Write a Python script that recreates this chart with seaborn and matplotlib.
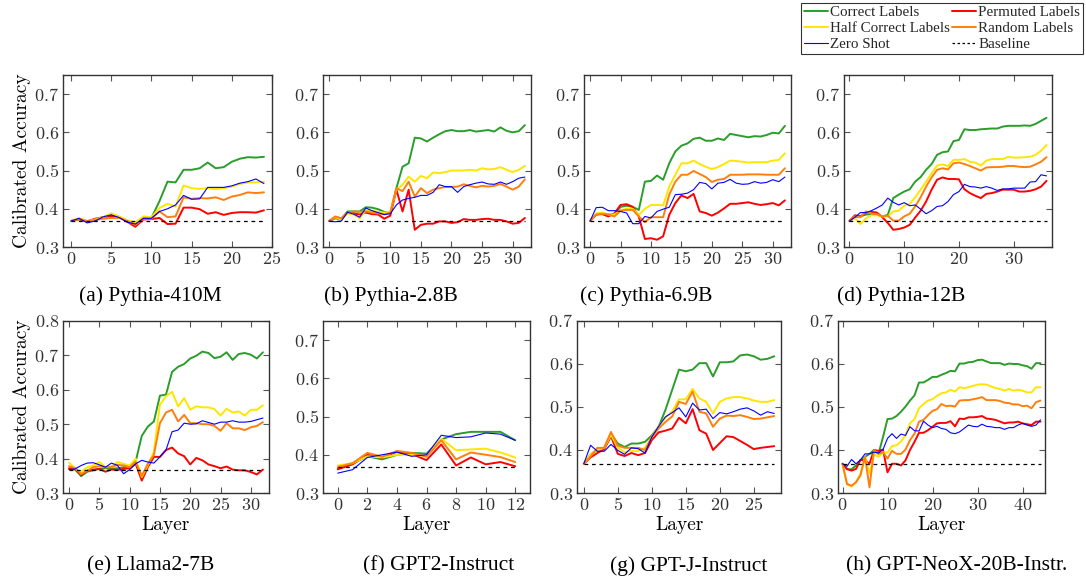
import matplotlib
matplotlib.use("Agg")
import matplotlib.pyplot as plt
from matplotlib.lines import Line2D
from matplotlib.ticker import FuncFormatter, MultipleLocator
import seaborn as sns

# ---------------------------------------------------------------- data
BASELINE = 0.368

# (a) Pythia-410M
a_correct = [0.368, 0.372, 0.367, 0.370, 0.378, 0.386, 0.378, 0.367, 0.362, 0.377, 0.376, 0.420, 0.471, 0.469, 0.502, 0.502, 0.506, 0.521, 0.506, 0.509, 0.523, 0.531, 0.535, 0.534, 0.536]
a_half = [0.368, 0.376, 0.368, 0.372, 0.378, 0.388, 0.380, 0.370, 0.364, 0.380, 0.378, 0.402, 0.413, 0.406, 0.461, 0.454, 0.452, 0.454, 0.451, 0.454, 0.458, 0.465, 0.469, 0.469, 0.471]
a_zero = [0.368, 0.375, 0.363, 0.368, 0.379, 0.384, 0.377, 0.365, 0.360, 0.375, 0.375, 0.393, 0.400, 0.410, 0.435, 0.425, 0.426, 0.456, 0.456, 0.456, 0.460, 0.467, 0.471, 0.478, 0.466]
a_random = [0.368, 0.373, 0.368, 0.371, 0.374, 0.376, 0.376, 0.368, 0.358, 0.374, 0.374, 0.393, 0.378, 0.380, 0.430, 0.426, 0.428, 0.427, 0.430, 0.423, 0.432, 0.436, 0.443, 0.441, 0.443]
a_permuted = [0.368, 0.373, 0.367, 0.374, 0.378, 0.381, 0.378, 0.366, 0.353, 0.372, 0.373, 0.376, 0.360, 0.361, 0.403, 0.403, 0.399, 0.387, 0.391, 0.384, 0.389, 0.391, 0.391, 0.390, 0.396]

# (b) Pythia-2.8B
b_correct = [0.368, 0.375, 0.372, 0.393, 0.393, 0.393, 0.404, 0.403, 0.399, 0.392, 0.389, 0.454, 0.510, 0.519, 0.586, 0.584, 0.576, 0.586, 0.595, 0.603, 0.606, 0.603, 0.603, 0.606, 0.602, 0.604, 0.606, 0.602, 0.613, 0.604, 0.600, 0.603, 0.619]
b_half = [0.368, 0.378, 0.372, 0.388, 0.385, 0.375, 0.396, 0.395, 0.392, 0.390, 0.392, 0.450, 0.463, 0.484, 0.471, 0.486, 0.480, 0.495, 0.493, 0.496, 0.500, 0.500, 0.500, 0.502, 0.500, 0.506, 0.503, 0.504, 0.509, 0.502, 0.496, 0.502, 0.512]
b_zero = [0.368, 0.366, 0.368, 0.391, 0.386, 0.378, 0.402, 0.395, 0.390, 0.385, 0.387, 0.410, 0.423, 0.427, 0.430, 0.435, 0.435, 0.443, 0.463, 0.458, 0.458, 0.443, 0.458, 0.463, 0.467, 0.470, 0.465, 0.464, 0.470, 0.464, 0.471, 0.480, 0.483]
b_random = [0.368, 0.380, 0.375, 0.390, 0.393, 0.392, 0.393, 0.390, 0.388, 0.385, 0.390, 0.454, 0.446, 0.471, 0.432, 0.454, 0.441, 0.450, 0.454, 0.457, 0.457, 0.458, 0.464, 0.460, 0.456, 0.460, 0.458, 0.460, 0.465, 0.458, 0.450, 0.458, 0.477]
b_permuted = [0.368, 0.378, 0.375, 0.390, 0.388, 0.385, 0.390, 0.386, 0.385, 0.374, 0.382, 0.450, 0.393, 0.450, 0.345, 0.358, 0.361, 0.361, 0.367, 0.367, 0.363, 0.365, 0.373, 0.371, 0.371, 0.373, 0.374, 0.371, 0.371, 0.367, 0.361, 0.363, 0.376]

# (c) Pythia-6.9B
c_correct = [0.368, 0.385, 0.388, 0.385, 0.385, 0.405, 0.408, 0.405, 0.397, 0.471, 0.473, 0.487, 0.476, 0.519, 0.550, 0.565, 0.571, 0.583, 0.586, 0.578, 0.578, 0.584, 0.580, 0.596, 0.593, 0.590, 0.587, 0.590, 0.589, 0.593, 0.599, 0.597, 0.617]
c_half = [0.368, 0.388, 0.390, 0.385, 0.385, 0.396, 0.400, 0.400, 0.384, 0.400, 0.410, 0.410, 0.409, 0.458, 0.489, 0.519, 0.519, 0.526, 0.517, 0.510, 0.504, 0.509, 0.517, 0.526, 0.525, 0.523, 0.521, 0.522, 0.522, 0.522, 0.526, 0.528, 0.545]
c_zero = [0.368, 0.403, 0.404, 0.395, 0.395, 0.393, 0.389, 0.361, 0.361, 0.380, 0.376, 0.393, 0.399, 0.404, 0.437, 0.438, 0.441, 0.450, 0.469, 0.466, 0.452, 0.467, 0.469, 0.477, 0.467, 0.464, 0.465, 0.471, 0.467, 0.469, 0.476, 0.471, 0.483]
c_random = [0.368, 0.385, 0.387, 0.385, 0.380, 0.395, 0.397, 0.397, 0.380, 0.365, 0.378, 0.378, 0.378, 0.437, 0.471, 0.489, 0.489, 0.499, 0.491, 0.483, 0.470, 0.476, 0.478, 0.489, 0.489, 0.489, 0.490, 0.490, 0.490, 0.489, 0.489, 0.489, 0.506]
c_permuted = [0.368, 0.385, 0.386, 0.380, 0.388, 0.410, 0.412, 0.405, 0.380, 0.321, 0.323, 0.319, 0.328, 0.384, 0.415, 0.435, 0.428, 0.439, 0.393, 0.389, 0.382, 0.390, 0.401, 0.413, 0.413, 0.415, 0.417, 0.413, 0.410, 0.412, 0.415, 0.409, 0.422]

# (d) Pythia-12B
d_correct = [0.368, 0.378, 0.380, 0.385, 0.386, 0.385, 0.380, 0.384, 0.428, 0.437, 0.445, 0.451, 0.471, 0.483, 0.502, 0.517, 0.541, 0.548, 0.550, 0.577, 0.580, 0.608, 0.606, 0.606, 0.608, 0.609, 0.610, 0.610, 0.615, 0.617, 0.617, 0.617, 0.618, 0.617, 0.622, 0.630, 0.638]
d_half = [0.368, 0.375, 0.360, 0.375, 0.383, 0.383, 0.380, 0.380, 0.393, 0.395, 0.408, 0.413, 0.430, 0.450, 0.471, 0.493, 0.513, 0.516, 0.512, 0.528, 0.528, 0.530, 0.523, 0.521, 0.513, 0.526, 0.530, 0.530, 0.530, 0.536, 0.534, 0.534, 0.535, 0.536, 0.541, 0.552, 0.567]
d_zero = [0.368, 0.378, 0.390, 0.390, 0.395, 0.402, 0.410, 0.428, 0.417, 0.410, 0.416, 0.408, 0.410, 0.399, 0.387, 0.395, 0.406, 0.408, 0.419, 0.437, 0.445, 0.464, 0.458, 0.457, 0.454, 0.458, 0.454, 0.448, 0.452, 0.452, 0.454, 0.454, 0.454, 0.470, 0.471, 0.489, 0.486]
d_random = [0.368, 0.380, 0.378, 0.393, 0.388, 0.386, 0.380, 0.382, 0.369, 0.369, 0.380, 0.387, 0.406, 0.430, 0.458, 0.482, 0.502, 0.506, 0.503, 0.519, 0.521, 0.517, 0.512, 0.506, 0.500, 0.508, 0.509, 0.509, 0.510, 0.512, 0.512, 0.510, 0.509, 0.510, 0.516, 0.523, 0.535]
d_permuted = [0.368, 0.383, 0.380, 0.390, 0.392, 0.390, 0.378, 0.363, 0.345, 0.347, 0.351, 0.358, 0.377, 0.395, 0.419, 0.450, 0.476, 0.482, 0.478, 0.478, 0.477, 0.451, 0.441, 0.434, 0.428, 0.439, 0.441, 0.445, 0.450, 0.450, 0.450, 0.445, 0.445, 0.447, 0.451, 0.458, 0.473]

# (e) Llama2-7B
e_correct = [0.370, 0.368, 0.349, 0.362, 0.366, 0.370, 0.372, 0.370, 0.372, 0.375, 0.377, 0.392, 0.466, 0.493, 0.508, 0.583, 0.586, 0.652, 0.667, 0.675, 0.691, 0.699, 0.711, 0.707, 0.692, 0.696, 0.709, 0.687, 0.704, 0.707, 0.702, 0.691, 0.709]
e_half = [0.388, 0.372, 0.361, 0.375, 0.380, 0.390, 0.375, 0.378, 0.390, 0.385, 0.380, 0.400, 0.346, 0.380, 0.420, 0.557, 0.581, 0.594, 0.552, 0.576, 0.542, 0.552, 0.549, 0.549, 0.544, 0.525, 0.545, 0.534, 0.537, 0.525, 0.542, 0.542, 0.555]
e_zero = [0.368, 0.370, 0.380, 0.387, 0.388, 0.382, 0.375, 0.387, 0.380, 0.356, 0.368, 0.385, 0.395, 0.390, 0.387, 0.405, 0.425, 0.478, 0.483, 0.503, 0.500, 0.501, 0.510, 0.505, 0.500, 0.506, 0.506, 0.510, 0.506, 0.506, 0.508, 0.513, 0.518]
e_random = [0.378, 0.372, 0.355, 0.365, 0.375, 0.378, 0.375, 0.375, 0.382, 0.380, 0.375, 0.390, 0.350, 0.385, 0.410, 0.503, 0.534, 0.542, 0.508, 0.527, 0.503, 0.503, 0.500, 0.500, 0.495, 0.481, 0.503, 0.488, 0.488, 0.483, 0.491, 0.495, 0.506]
e_permuted = [0.372, 0.370, 0.352, 0.365, 0.368, 0.370, 0.362, 0.368, 0.367, 0.370, 0.372, 0.385, 0.336, 0.375, 0.405, 0.405, 0.425, 0.432, 0.415, 0.407, 0.383, 0.402, 0.395, 0.383, 0.378, 0.372, 0.377, 0.368, 0.366, 0.366, 0.361, 0.354, 0.368]

# (f) GPT2-Instruct
f_correct = [0.365, 0.377, 0.396, 0.388, 0.400, 0.405, 0.403, 0.440, 0.454, 0.460, 0.460, 0.460, 0.438]
f_half = [0.372, 0.378, 0.396, 0.393, 0.400, 0.400, 0.397, 0.442, 0.412, 0.414, 0.416, 0.406, 0.393]
f_zero = [0.352, 0.361, 0.393, 0.400, 0.407, 0.396, 0.400, 0.451, 0.445, 0.447, 0.457, 0.454, 0.438]
f_random = [0.368, 0.378, 0.405, 0.395, 0.410, 0.405, 0.395, 0.438, 0.388, 0.406, 0.400, 0.394, 0.381]
f_permuted = [0.362, 0.375, 0.400, 0.392, 0.408, 0.402, 0.386, 0.427, 0.372, 0.393, 0.375, 0.381, 0.370]

# (g) GPT-J-Instruct
g_correct = [0.368, 0.390, 0.400, 0.405, 0.438, 0.415, 0.407, 0.415, 0.415, 0.419, 0.434, 0.454, 0.493, 0.540, 0.587, 0.583, 0.587, 0.602, 0.602, 0.571, 0.604, 0.604, 0.606, 0.620, 0.622, 0.618, 0.610, 0.612, 0.618]
g_half = [0.368, 0.390, 0.400, 0.405, 0.435, 0.405, 0.395, 0.398, 0.398, 0.405, 0.430, 0.455, 0.475, 0.490, 0.518, 0.518, 0.542, 0.520, 0.512, 0.485, 0.512, 0.520, 0.523, 0.523, 0.520, 0.515, 0.512, 0.512, 0.516]
g_zero = [0.368, 0.411, 0.397, 0.397, 0.413, 0.399, 0.390, 0.405, 0.403, 0.393, 0.430, 0.455, 0.477, 0.487, 0.498, 0.477, 0.509, 0.493, 0.495, 0.473, 0.487, 0.484, 0.489, 0.495, 0.498, 0.491, 0.481, 0.489, 0.485]
g_random = [0.368, 0.385, 0.405, 0.405, 0.442, 0.410, 0.405, 0.405, 0.405, 0.400, 0.430, 0.450, 0.465, 0.478, 0.512, 0.507, 0.536, 0.489, 0.485, 0.454, 0.473, 0.480, 0.479, 0.481, 0.477, 0.472, 0.473, 0.476, 0.479]
g_permuted = [0.368, 0.383, 0.393, 0.402, 0.432, 0.391, 0.386, 0.393, 0.388, 0.393, 0.423, 0.441, 0.445, 0.450, 0.475, 0.462, 0.495, 0.446, 0.438, 0.400, 0.416, 0.432, 0.430, 0.421, 0.412, 0.402, 0.405, 0.407, 0.409]

# (h) GPT-NeoX-20B-Instr.
h_correct = [0.368, 0.355, 0.355, 0.364, 0.376, 0.384, 0.391, 0.400, 0.391, 0.430, 0.472, 0.473, 0.479, 0.489, 0.501, 0.515, 0.527, 0.557, 0.557, 0.563, 0.570, 0.570, 0.575, 0.579, 0.584, 0.583, 0.601, 0.601, 0.604, 0.605, 0.609, 0.610, 0.606, 0.602, 0.602, 0.602, 0.598, 0.601, 0.600, 0.600, 0.597, 0.595, 0.589, 0.602, 0.602]
h_half = [0.368, 0.320, 0.315, 0.325, 0.345, 0.385, 0.345, 0.390, 0.384, 0.395, 0.394, 0.409, 0.411, 0.420, 0.434, 0.462, 0.472, 0.497, 0.507, 0.515, 0.518, 0.526, 0.532, 0.534, 0.540, 0.536, 0.546, 0.544, 0.546, 0.549, 0.552, 0.553, 0.552, 0.548, 0.544, 0.542, 0.538, 0.542, 0.538, 0.540, 0.538, 0.534, 0.534, 0.546, 0.546]
h_zero = [0.368, 0.362, 0.378, 0.368, 0.377, 0.391, 0.391, 0.395, 0.393, 0.401, 0.427, 0.438, 0.427, 0.437, 0.434, 0.454, 0.445, 0.444, 0.467, 0.458, 0.452, 0.455, 0.450, 0.448, 0.440, 0.438, 0.442, 0.450, 0.458, 0.455, 0.454, 0.460, 0.455, 0.454, 0.452, 0.452, 0.448, 0.452, 0.452, 0.458, 0.462, 0.458, 0.455, 0.458, 0.470]
h_random = [0.368, 0.321, 0.317, 0.325, 0.341, 0.384, 0.313, 0.400, 0.391, 0.395, 0.380, 0.398, 0.391, 0.391, 0.401, 0.423, 0.438, 0.466, 0.470, 0.481, 0.491, 0.495, 0.507, 0.502, 0.503, 0.501, 0.515, 0.516, 0.516, 0.518, 0.520, 0.523, 0.516, 0.516, 0.516, 0.514, 0.510, 0.509, 0.506, 0.506, 0.502, 0.503, 0.497, 0.511, 0.515]
h_permuted = [0.368, 0.356, 0.352, 0.356, 0.377, 0.376, 0.368, 0.400, 0.398, 0.401, 0.348, 0.368, 0.368, 0.364, 0.376, 0.400, 0.419, 0.440, 0.440, 0.446, 0.454, 0.462, 0.463, 0.463, 0.467, 0.455, 0.473, 0.472, 0.476, 0.476, 0.477, 0.479, 0.473, 0.472, 0.470, 0.466, 0.462, 0.464, 0.464, 0.466, 0.462, 0.460, 0.458, 0.466, 0.466]

captions = ["(a) Pythia-410M", "(b) Pythia-2.8B", "(c) Pythia-6.9B", "(d) Pythia-12B",
            "(e) Llama2-7B", "(f) GPT2-Instruct", "(g) GPT-J-Instruct", "(h) GPT-NeoX-20B-Instr."]
series_labels = ["Correct Labels", "Permuted Labels", "Half Correct Labels", "Random Labels", "Zero Shot"]
baseline_label = "Baseline"

# ---------------------------------------------------------------- style
colors = {"Correct Labels": "#2a9d2a", "Permuted Labels": "#ff0000",
          "Half Correct Labels": "#ffe600", "Random Labels": "#ff7f0e",
          "Zero Shot": "#0000ff"}
widths = {"Correct Labels": 1.4, "Permuted Labels": 1.4, "Half Correct Labels": 1.4,
          "Random Labels": 1.4, "Zero Shot": 0.8}

sns.set_theme(style="ticks")
plt.rcParams["font.family"] = ["Liberation Serif", "DejaVu Serif"]
plt.rcParams["mathtext.fontset"] = "cm"

W, H = 1086, 582
fig = plt.figure(figsize=(W / 100, H / 100), dpi=100)

# panel frames in pixels: left, right, top, bottom
frames = [(63, 272, 75, 247), (323, 531, 75, 247), (584, 791, 75, 247), (844, 1052, 75, 247),
          (63, 269, 321, 493), (323, 530, 321, 493), (577, 781, 321, 493), (838, 1045, 321, 493)]
ylims = [(0.3, 0.75)] * 4 + [(0.3, 0.8), (0.3, 0.75), (0.3, 0.7), (0.3, 0.7)]
xsteps = [5, 5, 5, 10, 5, 2, 5, 10]
caption_x = [150, 391, 646, 901, 151, 439, 689, 957]

panels = [
    (a_correct, a_permuted, a_half, a_random, a_zero),
    (b_correct, b_permuted, b_half, b_random, b_zero),
    (c_correct, c_permuted, c_half, c_random, c_zero),
    (d_correct, d_permuted, d_half, d_random, d_zero),
    (e_correct, e_permuted, e_half, e_random, e_zero),
    (f_correct, f_permuted, f_half, f_random, f_zero),
    (g_correct, g_permuted, g_half, g_random, g_zero),
    (h_correct, h_permuted, h_half, h_random, h_zero),
]

tick_fmt = FuncFormatter(lambda v, p: f"${v:.1f}$")
int_fmt = FuncFormatter(lambda v, p: f"${int(round(v))}$")

for i, series in enumerate(panels):
    x0, x1, y0, y1 = frames[i]
    ax = fig.add_axes([x0 / W, 1 - y1 / H, (x1 - x0) / W, (y1 - y0) / H])
    layers = list(range(len(series[0])))
    for label, vals in zip(series_labels, series):
        sns.lineplot(x=layers, y=vals, color=colors[label], linewidth=widths[label],
                     ax=ax, legend=False)
    ax.hlines(BASELINE, layers[0], layers[-1], colors="black", linewidth=0.9,
              linestyles=(0, (3, 3)))
    ax.set_xlim(layers[0] - 1, layers[-1] + 1)
    ax.set_ylim(*ylims[i])
    ax.xaxis.set_major_locator(MultipleLocator(xsteps[i]))
    ax.yaxis.set_major_locator(MultipleLocator(0.1))
    ax.xaxis.set_major_formatter(int_fmt)
    ax.yaxis.set_major_formatter(tick_fmt)
    ax.tick_params(direction="in", top=True, right=True, length=4, width=0.8,
                   color="#555555", labelsize=13, labelcolor="#333333", pad=3)
    ax.set_xlabel("")
    ax.set_ylabel("")
    for s in ax.spines.values():
        s.set_color("#333333")
        s.set_linewidth(1.0)
    if i >= 4:
        fig.text((x0 + x1) / 2 / W, 1 - 530 / H, "Layer", family="cmr10", fontsize=14,
                 ha="center", va="baseline", color="black")
    cy = 296 if i < 4 else 566
    fig.text(caption_x[i] / W, 1 - cy / H, captions[i], fontsize=15.5,
             ha="center", va="center", color="black")

for cy in ((75 + 247) / 2, (321 + 493) / 2):
    fig.text(22 / W, 1 - cy / H, "Calibrated Accuracy", family="cmr10", fontsize=14,
             rotation=90, ha="center", va="center", color="black")

# legend: column-major order
order = ["Correct Labels", "Half Correct Labels", "Zero Shot", "Permuted Labels", "Random Labels"]
handles = [Line2D([], [], color=colors[k], linewidth=widths[k]) for k in order]
handles.append(Line2D([], [], color="black", linewidth=0.9, linestyle=(0, (2, 2))))
labels = order + [baseline_label]
leg = fig.legend(handles, labels, loc="upper right", bbox_to_anchor=(1083 / W, 1 - 3 / H),
                 ncol=2, frameon=True, fancybox=False, edgecolor="black", fontsize=10.8,
                 handlelength=1.6, handletextpad=0.15, columnspacing=0.15,
                 labelspacing=0.15, borderpad=0.2, borderaxespad=0)
leg.get_frame().set_linewidth(0.8)

fig.savefig("out.png", dpi=100)
